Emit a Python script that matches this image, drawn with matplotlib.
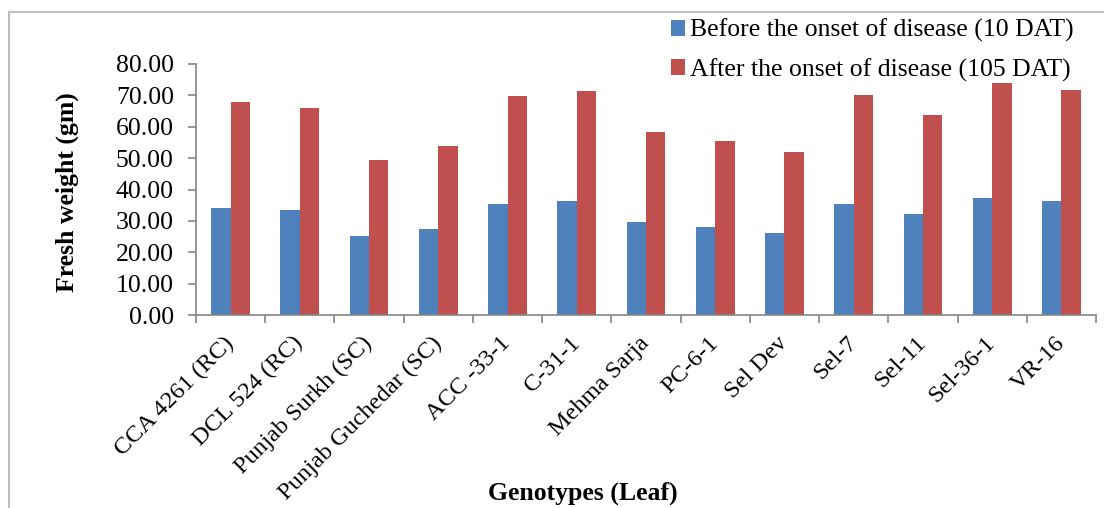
import matplotlib
matplotlib.use("Agg")
import matplotlib.pyplot as plt
from matplotlib.lines import Line2D
import numpy as np

categories = ["CCA 4261 (RC)", "DCL 524 (RC)", "Punjab Surkh (SC)", "Punjab Guchedar (SC)",
              "ACC -33-1", "C-31-1", "Mehma Sarja", "PC-6-1", "Sel Dev", "Sel-7",
              "Sel-11", "Sel-36-1", "VR-16"]
before_10dat = [34.2, 33.4, 25.1, 27.3, 35.4, 36.2, 29.5, 28.2, 26.2, 35.4, 32.3, 37.3, 36.2]
after_105dat = [68.0, 66.0, 49.4, 53.9, 69.9, 71.4, 58.3, 55.5, 52.0, 70.2, 63.7, 73.8, 71.6]
yticks = [0, 10, 20, 30, 40, 50, 60, 70, 80]

plt.rcParams['font.family'] = ['Liberation Serif', 'DejaVu Serif']

W, H = 1104, 508
fig = plt.figure(figsize=(W / 100, H / 100), dpi=100)
ax = fig.add_axes([196 / W, (H - 315) / H, (1096 - 196) / W, (315 - 64) / H])

x = np.arange(len(categories))
bw = 0.28
ax.bar(x - bw / 2, before_10dat, bw, color='#4F81BD', label='Before the onset of disease (10 DAT)')
ax.bar(x + bw / 2, after_105dat, bw, color='#C0504D', label='After the onset of disease (105 DAT)')

ax.set_xlim(-0.5, len(categories) - 0.5)
ax.set_ylim(0, 80)
ax.set_yticks(yticks)
ax.set_yticklabels([f"{v:.2f}" for v in yticks], fontsize=18.5)
ax.set_xticks(np.arange(len(categories) + 1) - 0.5, minor=False)
ax.set_xticklabels([])
ax.set_xticks(x, minor=True)
ax.set_xticklabels(categories, minor=True, rotation=45, ha='right', va='center',
                   rotation_mode='anchor', fontsize=17.6)
ax.tick_params(axis='x', which='minor', length=0, pad=18)
ax.tick_params(axis='x', which='major', length=6, color='#868686', width=1.2)
ax.tick_params(axis='y', length=6, color='#868686', width=1.2, pad=10)

for s in ['top', 'right']:
    ax.spines[s].set_visible(False)
for s in ['left', 'bottom']:
    ax.spines[s].set_color('#868686')
    ax.spines[s].set_linewidth(1.2)

fig.text(67 / W, 1 - 192 / H, 'Fresh weight (gm)', fontsize=18.5, fontweight='bold',
         ha='center', va='center', rotation=90)
fig.text(583 / W, 1 - 493 / H, 'Genotypes (Leaf)', fontsize=18.5, fontweight='bold',
         ha='center', va='center')

leg = fig.legend(loc='upper right', bbox_to_anchor=(1074 / W, 1 - 19 / H), frameon=False,
                 fontsize=18.5, handlelength=0.55, handleheight=0.55, handletextpad=0.2,
                 labelspacing=0.62, borderaxespad=0, borderpad=0)

fig.add_artist(Line2D([9 / W, 1], [1 - 12 / H, 1 - 12 / H], color='#BFBFBF', lw=1.5))
fig.add_artist(Line2D([9 / W, 9 / W], [0, 1 - 12 / H], color='#BFBFBF', lw=1.5))

fig.savefig('out.png', dpi=100)
